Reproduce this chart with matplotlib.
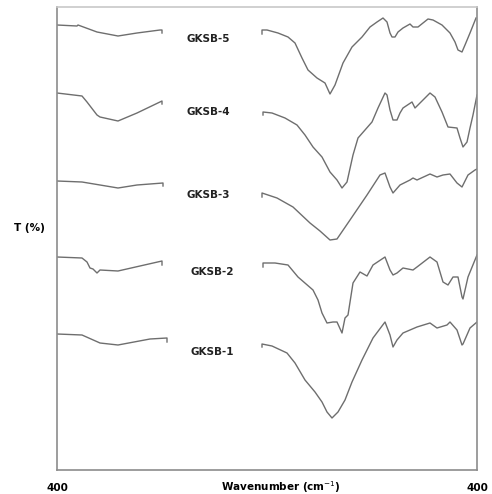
import matplotlib
matplotlib.use("Agg")
from matplotlib import pyplot as plt

# spectra (x: position along wavenumber axis, y: offset transmittance, down = lower)
labels = ["GKSB-1", "GKSB-2", "GKSB-3", "GKSB-4", "GKSB-5"]

left_x = {
    "GKSB-5": [57, 77, 78, 97, 118, 137, 160, 162, 162],
    "GKSB-4": [57, 82, 87, 97, 100, 118, 137, 162, 162],
    "GKSB-3": [57, 82, 118, 137, 163, 163],
    "GKSB-2": [57, 82, 87, 90, 93, 97, 100, 118, 162, 162],
    "GKSB-1": [57, 82, 100, 118, 150, 167, 167],
}
left_y = {
    "GKSB-5": [25, 26, 25, 32, 36, 33, 30, 30, 33],
    "GKSB-4": [93, 96, 102, 115, 117, 121, 113, 101, 104],
    "GKSB-3": [181, 182, 188, 185, 183, 186],
    "GKSB-2": [257, 258, 262, 268, 269, 273, 270, 271, 261, 265],
    "GKSB-1": [334, 335, 343, 345, 339, 338, 342],
}

right_x = {
    "GKSB-5": [262, 262, 267, 278, 288, 295, 302, 308, 317, 325, 330, 335, 343, 352, 362,
               370, 377, 383, 387, 390, 392, 395, 398, 403, 410, 413, 418, 428, 433, 442,
               450, 455, 458, 462, 465, 470, 476],
    "GKSB-4": [263, 263, 272, 285, 297, 305, 313, 322, 330, 337, 342, 347, 353, 358, 365,
               372, 378, 385, 387, 390, 393, 397, 400, 403, 412, 415, 420, 430, 435, 442,
               448, 457, 460, 463, 467, 470, 473, 477],
    "GKSB-3": [262, 262, 277, 293, 310, 320, 330, 337, 350, 367, 380, 385, 390, 393, 400,
               410, 413, 417, 430, 437, 443, 450, 457, 462, 468, 475, 477],
    "GKSB-2": [263, 263, 275, 288, 298, 313, 318, 322, 327, 333, 337, 342, 345, 348, 353,
               360, 367, 373, 385, 390, 393, 397, 403, 413, 417, 430, 437, 443, 448, 453,
               458, 462, 463, 468, 477],
    "GKSB-1": [262, 262, 272, 287, 295, 305, 315, 322, 327, 332, 338, 345, 352, 362, 373,
               385, 390, 393, 397, 403, 410, 417, 430, 437, 447, 450, 457, 462, 463, 470, 477],
}
right_y = {
    "GKSB-5": [34, 30, 30, 33, 37, 43, 58, 70, 78, 83, 94, 85, 63, 47, 37,
               27, 22, 18, 22, 33, 37, 37, 32, 28, 24, 27, 27, 19, 20, 25,
               33, 42, 50, 52, 45, 33, 18],
    "GKSB-4": [115, 112, 113, 118, 125, 135, 147, 157, 172, 180, 188, 182, 155, 138, 130,
               122, 108, 93, 95, 110, 120, 120, 113, 108, 102, 108, 103, 93, 97, 112,
               127, 128, 138, 147, 142, 128, 115, 95],
    "GKSB-3": [197, 193, 198, 207, 223, 231, 240, 239, 220, 195, 175, 173, 187, 193, 185,
               180, 178, 180, 174, 177, 175, 174, 183, 187, 175, 170, 169],
    "GKSB-2": [267, 263, 263, 265, 277, 290, 300, 313, 323, 322, 322, 333, 318, 315, 283,
               272, 276, 265, 257, 270, 275, 273, 268, 270, 267, 257, 262, 282, 285, 277,
               277, 297, 299, 277, 255],
    "GKSB-1": [347, 344, 346, 353, 363, 380, 392, 402, 412, 418, 412, 400, 382, 360, 338,
               322, 335, 347, 340, 333, 330, 327, 323, 328, 325, 322, 330, 345, 344, 328, 322],
}

label_x = [212, 212, 208, 208, 208]
label_y = [352, 272, 195, 112, 39]

line_color = "#6e6e6e"

fig = plt.figure(figsize=(4.92, 4.94), dpi=100)
ax = fig.add_axes([57 / 492, 24 / 494, 420 / 492, 463 / 494])

for name in labels:
    ax.plot(left_x[name], left_y[name], color=line_color, lw=1.0)
    ax.plot(right_x[name], right_y[name], color=line_color, lw=1.0)

for name, lx, ly in zip(labels, label_x, label_y):
    ax.text(lx, ly, name, ha="center", va="center", fontsize=7.5,
            fontweight="bold", color="#222222")

ax.set_xlim(57, 477)
ax.set_ylim(470, 7)

ax.set_xticks([57, 477])
ax.set_xticklabels(["400", "400"], fontsize=7.5, fontweight="bold")
ax.tick_params(axis="x", length=0, pad=9)
ax.set_yticks([])

ax.spines["left"].set_color("#8c8c8c")
ax.spines["bottom"].set_color("#8c8c8c")
ax.spines["top"].set_color("#c8c8c8")
ax.spines["right"].set_color("#8c8c8c")
for s in ax.spines.values():
    s.set_linewidth(1.2)

fig.text(281 / 492, 1 - 487 / 494, "Wavenumber (cm$^{-1}$)", ha="center", va="center",
         fontsize=7.5, fontweight="bold")
fig.text(29 / 492, 1 - 228 / 494, "T (%)", ha="center", va="center",
         fontsize=7.5, fontweight="bold")

fig.savefig("out.png", dpi=100)
